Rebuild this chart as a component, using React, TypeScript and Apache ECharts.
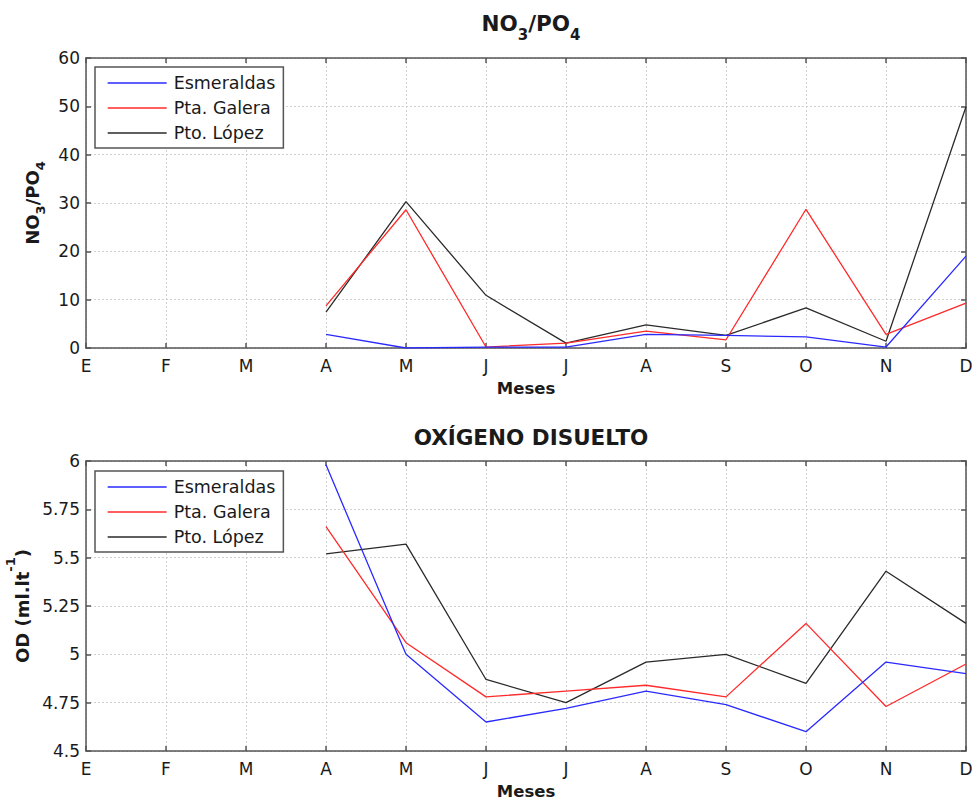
import React, { useEffect, useRef } from "react";
import * as echarts from "echarts";

const months = ["E", "F", "M", "A", "M", "J", "J", "A", "S", "O", "N", "D"];
const seriesNames = ["Esmeraldas", "Pta. Galera", "Pto. López"];
const seriesColors = ["#2a2aff", "#ff2a2a", "#2a2a2a"];

// NO3/PO4 ratio
const no3po4Esmeraldas = [null, null, null, 2.8, 0.0, 0.2, 0.2, 2.8, 2.6, 2.3, 0.2, 19.0];
const no3po4Galera = [null, null, null, 8.7, 28.6, 0.2, 1.0, 3.5, 1.7, 28.7, 2.8, 9.3];
const no3po4Lopez = [null, null, null, 7.4, 30.3, 10.9, 1.0, 4.8, 2.6, 8.3, 1.4, 49.9];

// Dissolved oxygen (ml/l)
const odEsmeraldas = [null, null, null, 5.98, 5.0, 4.65, 4.72, 4.81, 4.74, 4.6, 4.96, 4.9];
const odGalera = [null, null, null, 5.66, 5.06, 4.78, 4.81, 4.84, 4.78, 5.16, 4.73, 4.95];
const odLopez = [null, null, null, 5.52, 5.57, 4.87, 4.75, 4.96, 5.0, 4.85, 5.43, 5.16];

const FONT = "'DejaVu Sans', 'Liberation Sans', Arial, sans-serif";
const AXIS_COLOR = "#555555";
const TEXT_COLOR = "#1a1a1a";

export default function App() {
  const ref = useRef<HTMLDivElement>(null);

  useEffect(() => {
    document.body.style.margin = "0";
    const chart = echarts.init(ref.current!, undefined, { renderer: "svg" });

    const grids = [
      { left: 86, top: 58, width: 880, height: 290, containLabel: false, outerBoundsMode: "none" },
      { left: 86, top: 461, width: 880, height: 290, containLabel: false, outerBoundsMode: "none" },
    ];

    const mkX = (gi: number, primary: boolean) => ({
      type: "category",
      gridIndex: gi,
      data: months,
      boundaryGap: false,
      position: primary ? "bottom" : "top",
      name: primary ? "Meses" : "",
      nameLocation: "middle",
      nameGap: 32,
      nameTextStyle: { fontFamily: FONT, fontSize: 16.5, fontWeight: "bold", color: TEXT_COLOR },
      axisLine: { show: true, onZero: false, lineStyle: { color: AXIS_COLOR, width: 1.5 } },
      axisTick: { show: true, inside: true, length: 5, alignWithLabel: true, lineStyle: { color: AXIS_COLOR, width: 1.5 } },
      axisLabel: primary
        ? { show: true, fontFamily: FONT, fontSize: 17, color: TEXT_COLOR, margin: 9 }
        : { show: false },
      splitLine: primary
        ? { show: true, lineStyle: { color: "#cfcfcf", type: [2, 2], width: 1 } }
        : { show: false },
    });

    const mkY = (
      gi: number,
      primary: boolean,
      min: number,
      max: number,
      interval: number,
      name: string,
      nameGap: number,
      rich: any
    ) => ({
      type: "value",
      gridIndex: gi,
      min,
      max,
      interval,
      position: primary ? "left" : "right",
      name: primary ? name : "",
      nameLocation: "middle",
      nameGap,
      nameRotate: 90,
      nameTextStyle: { fontFamily: FONT, fontSize: 18, fontWeight: "bold", color: TEXT_COLOR, rich },
      axisLine: { show: true, onZero: false, lineStyle: { color: AXIS_COLOR, width: 1.5 } },
      axisTick: { show: true, inside: true, length: 5, lineStyle: { color: AXIS_COLOR, width: 1.5 } },
      axisLabel: primary
        ? { show: true, fontFamily: FONT, fontSize: 17, color: TEXT_COLOR, margin: 6 }
        : { show: false },
      splitLine: primary
        ? { show: true, lineStyle: { color: "#cfcfcf", type: [2, 2], width: 1 } }
        : { show: false },
    });

    const subRich = {
      b: { fontFamily: FONT, fontSize: 18, fontWeight: "bold", color: TEXT_COLOR, verticalAlign: "bottom", lineHeight: 24 },
      s: { fontFamily: FONT, fontSize: 13, fontWeight: "bold", color: TEXT_COLOR, verticalAlign: "bottom", lineHeight: 24, padding: [0, 0, -6, 0] },
      p: { fontFamily: FONT, fontSize: 13, fontWeight: "bold", color: TEXT_COLOR, verticalAlign: "top", lineHeight: 24, padding: [-3, 0, 0, 0] },
    };
    const titleRich = {
      b: { fontFamily: FONT, fontSize: 21.5, fontWeight: "bold", color: TEXT_COLOR, verticalAlign: "bottom", lineHeight: 26 },
      s: { fontFamily: FONT, fontSize: 15, fontWeight: "bold", color: TEXT_COLOR, verticalAlign: "bottom", lineHeight: 26, padding: [0, 0, -8, 0] },
    };

    const mkSeries = (gi: number, arrs: (number | null)[][]) =>
      arrs.map((d, i) => ({
        name: seriesNames[i],
        type: "line",
        xAxisIndex: gi * 2,
        yAxisIndex: gi * 2,
        data: d,
        symbol: "none",
        showSymbol: false,
        connectNulls: false,
        lineStyle: { color: seriesColors[i], width: 1.3 },
        itemStyle: { color: seriesColors[i] },
        z: 3 + (2 - i),
      }));

    const mkLegend = (top: number) => ({
      show: true,
      orient: "vertical",
      left: 95,
      top,
      data: seriesNames,
      backgroundColor: "#ffffff",
      borderColor: "#555555",
      borderWidth: 1.5,
      padding: [7, 8, 6, 12],
      itemWidth: 59,
      itemHeight: 14,
      itemGap: 7,
      itemStyle: { opacity: 0 },
      lineStyle: { width: 1.3 },
      textStyle: { fontFamily: FONT, fontSize: 17.5, color: TEXT_COLOR, padding: [0, 0, 0, 2] },
      selectedMode: false,
    });

    chart.setOption({
      animation: false,
      backgroundColor: "#ffffff",
      title: [
        {
          text: "{b|NO}{s|3}{b|/PO}{s|4}",
          left: 526,
          top: 3,
          textAlign: "center",
          textStyle: { rich: titleRich },
        },
        {
          text: "OXÍGENO DISUELTO",
          left: 526,
          top: 421,
          textAlign: "center",
          textStyle: { fontFamily: FONT, fontSize: 21.5, fontWeight: "bold", color: TEXT_COLOR },
        },
      ],
      legend: [mkLegend(67), mkLegend(471)],
      grid: grids,
      xAxis: [mkX(0, true), mkX(0, false), mkX(1, true), mkX(1, false)],
      yAxis: [
        mkY(0, true, 0, 60, 10, "{b|NO}{s|3}{b|/PO}{s|4}", 45, subRich),
        mkY(0, false, 0, 60, 10, "", 0, subRich),
        mkY(1, true, 4.5, 6, 0.25, "{b|OD (ml.lt}{p|-1}{b|)}", 52, subRich),
        mkY(1, false, 4.5, 6, 0.25, "", 0, subRich),
      ],
      series: [
        ...mkSeries(0, [no3po4Esmeraldas, no3po4Galera, no3po4Lopez]),
        ...mkSeries(1, [odEsmeraldas, odGalera, odLopez]),
      ],
    });

    return () => chart.dispose();
  }, []);

  return <div ref={ref} style={{ width: 972, height: 803, position: "absolute", left: 0, top: 0 }} />;
}
